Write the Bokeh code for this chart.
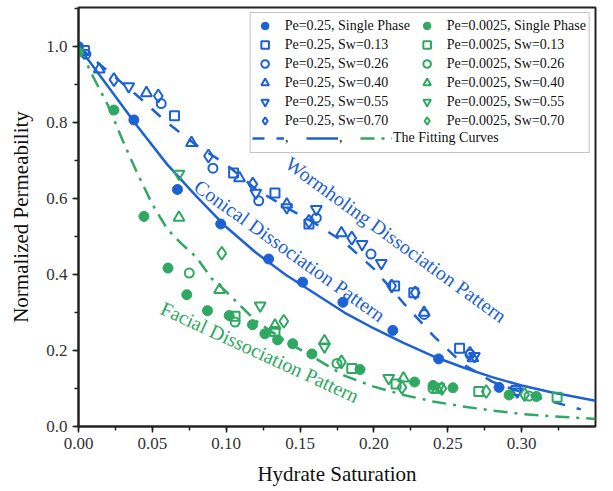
from bokeh.plotting import figure
from bokeh.models import Range1d, SingleIntervalTicker, Legend, LegendItem, CustomJSTickFormatter
from bokeh.core.properties import value
from bokeh.embed import file_html
from bokeh.resources import INLINE

BLUE = "#1d61d6"
GREEN = "#2fa862"
SERIF = "Liberation Serif"

# ---- Pe = 0.25 (blue) ----
hs_b_single = [0.0, 0.0375, 0.067, 0.0963, 0.1287, 0.1517, 0.179, 0.2128, 0.2438, 0.2847]
kn_b_single = [1.0, 0.807, 0.624, 0.533, 0.441, 0.380, 0.327, 0.253, 0.178, 0.103]

hs_b_013 = [0.004, 0.065, 0.105, 0.133, 0.156, 0.214, 0.227, 0.258, 0.296]
kn_b_013 = [0.99, 0.818, 0.667, 0.615, 0.533, 0.37, 0.352, 0.206, 0.095]

hs_b_026 = [0.005, 0.056, 0.091, 0.122, 0.161, 0.198, 0.234, 0.265]
kn_b_026 = [0.98, 0.85, 0.68, 0.594, 0.549, 0.454, 0.295, 0.19]

hs_b_040 = [0.014, 0.046, 0.0765, 0.109, 0.141, 0.178, 0.234, 0.267]
kn_b_040 = [0.94, 0.878, 0.747, 0.654, 0.585, 0.509, 0.30, 0.18]

hs_b_055 = [0.034, 0.120, 0.141, 0.161, 0.192, 0.205, 0.268, 0.297]
kn_b_055 = [0.895, 0.615, 0.577, 0.572, 0.48, 0.43, 0.185, 0.092]

hs_b_070 = [0.024, 0.054, 0.088, 0.118, 0.156, 0.185, 0.212, 0.228, 0.265]
kn_b_070 = [0.913, 0.87, 0.712, 0.638, 0.54, 0.496, 0.37, 0.352, 0.193]

# ---- Pe = 0.0025 (green) ----
hs_g_single = [0.0, 0.024, 0.0443, 0.0606, 0.0733, 0.0873, 0.102, 0.1178, 0.1262, 0.1348,
               0.145, 0.158, 0.1906, 0.2275, 0.24, 0.2535, 0.2915, 0.31]
kn_g_single = [0.985, 0.833, 0.553, 0.417, 0.347, 0.305, 0.292, 0.268, 0.244, 0.228,
               0.218, 0.191, 0.15, 0.117, 0.108, 0.102, 0.083, 0.079]

hs_g_013 = [0.106, 0.133, 0.185, 0.215, 0.271, 0.324]
kn_g_013 = [0.29, 0.25, 0.153, 0.112, 0.092, 0.077]

hs_g_026 = [0.075, 0.106, 0.175, 0.24, 0.305]
kn_g_026 = [0.404, 0.275, 0.166, 0.10, 0.08]

hs_g_040 = [0.068, 0.0955, 0.133, 0.1665, 0.22, 0.243]
kn_g_040 = [0.55, 0.36, 0.266, 0.225, 0.127, 0.097]

hs_g_055 = [0.068, 0.123, 0.1665, 0.21, 0.244]
kn_g_055 = [0.665, 0.318, 0.21, 0.127, 0.104]

hs_g_070 = [0.097, 0.139, 0.178, 0.219, 0.246, 0.276, 0.302]
kn_g_070 = [0.456, 0.277, 0.17, 0.103, 0.10, 0.092, 0.084]

# ---- fitting curves ----
hs_fit_worm = [0.0, 0.02, 0.04, 0.06, 0.08, 0.10, 0.12, 0.14, 0.16, 0.18, 0.20, 0.22,
               0.24, 0.26, 0.28, 0.30, 0.32, 0.34]
kn_fit_worm = [1.0, 0.935, 0.87, 0.80, 0.74, 0.69, 0.625, 0.578, 0.535, 0.485, 0.415, 0.325,
               0.24, 0.165, 0.118, 0.09, 0.066, 0.045]

hs_fit_cone = [0.0, 0.02, 0.04, 0.06, 0.08, 0.10, 0.12, 0.14, 0.16, 0.18, 0.20, 0.22,
               0.24, 0.26, 0.28, 0.30, 0.32, 0.35]
kn_fit_cone = [1.0, 0.895, 0.79, 0.69, 0.605, 0.525, 0.458, 0.40, 0.35, 0.30, 0.258, 0.22,
               0.185, 0.156, 0.13, 0.108, 0.09, 0.068]

hs_fit_face = [0.0, 0.01, 0.02, 0.03, 0.04, 0.05, 0.06, 0.07, 0.08, 0.09, 0.10, 0.12,
               0.14, 0.16, 0.18, 0.20, 0.22, 0.24, 0.26, 0.28, 0.30, 0.32, 0.35]
kn_fit_face = [1.0, 0.92, 0.845, 0.752, 0.665, 0.585, 0.52, 0.48, 0.445, 0.39, 0.355, 0.278,
               0.225, 0.18, 0.134, 0.105, 0.083, 0.066, 0.053, 0.042, 0.033, 0.027, 0.02]

pattern_labels = ["Wormholing Dissociation Pattern", "Conical Dissociation Pattern",
                  "Facial Dissociation Pattern"]

p = figure(width=613, height=491, output_backend="svg", toolbar_location=None,
           x_range=Range1d(0, 0.35), y_range=Range1d(0, 1.103),
           min_border_left=78, min_border_right=18, min_border_top=7, min_border_bottom=65)
p.background_fill_color = "white"
p.border_fill_color = "white"
p.outline_line_color = "#222222"
p.outline_line_width = 2
p.xgrid.visible = False
p.ygrid.visible = False

p.xaxis.ticker = SingleIntervalTicker(interval=0.05, num_minor_ticks=2)
p.yaxis.ticker = SingleIntervalTicker(interval=0.2, num_minor_ticks=2)
p.xaxis.formatter = CustomJSTickFormatter(code="return tick.toFixed(2);")
p.yaxis.formatter = CustomJSTickFormatter(code="return tick.toFixed(1);")
for ax in (p.xaxis, p.yaxis):
    ax.axis_line_width = 2
    ax.axis_line_color = "#222222"
    ax.major_tick_line_color = "#222222"
    ax.minor_tick_line_color = "#222222"
    ax.major_tick_line_width = 1.5
    ax.minor_tick_line_width = 1.5
    ax.major_tick_out = 6
    ax.major_tick_in = 0
    ax.minor_tick_out = 4
    ax.minor_tick_in = 0
    ax.major_label_text_font = SERIF
    ax.major_label_text_font_size = "17px"
    ax.major_label_text_color = "#333333"
    ax.axis_label_text_font = SERIF
    ax.axis_label_text_font_size = "21px"
    ax.axis_label_text_font_style = "normal"
    ax.axis_label_text_color = "#111111"
p.xaxis.axis_label = "Hydrate Saturation"
p.yaxis.axis_label = "Normalized Permeability"
p.xaxis.axis_label_standoff = 10
p.yaxis.axis_label_standoff = 10

# fitting curves
r_worm = p.line(hs_fit_worm, kn_fit_worm, line_color=BLUE, line_width=2.5, line_dash="12 12")
r_cone = p.line(hs_fit_cone, kn_fit_cone, line_color=BLUE, line_width=2.5)
r_face = p.line(hs_fit_face, kn_fit_face, line_color=GREEN, line_width=2.5, line_dash="14 7 3 7")

def filled(xs, ys, color):
    return p.scatter(xs, ys, marker="circle", size=10, fill_color=color, line_color=color)

def hollow(xs, ys, color, marker, size):
    return p.scatter(xs, ys, marker=marker, size=size, fill_color=None,
                     line_color=color, line_width=2)

rb = [
    filled(hs_b_single, kn_b_single, BLUE),
    hollow(hs_b_013, kn_b_013, BLUE, "square", 9),
    hollow(hs_b_026, kn_b_026, BLUE, "circle", 9),
    hollow(hs_b_040, kn_b_040, BLUE, "triangle", 11),
    hollow(hs_b_055, kn_b_055, BLUE, "inverted_triangle", 11),
    hollow(hs_b_070, kn_b_070, BLUE, "diamond", 13),
]
rg = [
    filled(hs_g_single, kn_g_single, GREEN),
    hollow(hs_g_013, kn_g_013, GREEN, "square", 9),
    hollow(hs_g_026, kn_g_026, GREEN, "circle", 9),
    hollow(hs_g_040, kn_g_040, GREEN, "triangle", 11),
    hollow(hs_g_055, kn_g_055, GREEN, "inverted_triangle", 11),
    hollow(hs_g_070, kn_g_070, GREEN, "diamond", 13),
]

# rotated pattern labels
p.text(x=[0.215, 0.143], y=[0.492, 0.463], text=pattern_labels[:2], angle=[-0.627, -0.62],
       text_color=BLUE, text_font=value(SERIF), text_font_size="20px",
       text_align="center", text_baseline="middle")
p.text(x=[0.1228], y=[0.196], text=pattern_labels[2:], angle=[-0.431],
       text_color=GREEN, text_font=value(SERIF), text_font_size="20px",
       text_align="center", text_baseline="middle")

sw = ["Single Phase", "Sw=0.13", "Sw=0.26", "Sw=0.40", "Sw=0.55", "Sw=0.70"]
items = [LegendItem(label=f"Pe=0.25, {s}", renderers=[r]) for s, r in zip(sw, rb)]
items.append(LegendItem(label=" ", renderers=[]))  # row kept free for the fitting-curve key
items += [LegendItem(label=f"Pe=0.0025, {s}", renderers=[r]) for s, r in zip(sw, rg)]

leg = Legend(items=items, ncols=2, location="top_right", margin=5, padding=3,
             glyph_width=22, glyph_height=19, label_height=18, label_width=131,
             label_standoff=9, spacing=0,
             label_text_font=SERIF, label_text_font_size="14px", label_text_color="#111111",
             border_line_color="#888888", border_line_width=1, background_fill_alpha=1)
p.add_layout(leg)

fit_leg = Legend(items=[LegendItem(label=",", renderers=[r_worm]),
                        LegendItem(label=",", renderers=[r_cone]),
                        LegendItem(label="The Fitting Curves", renderers=[r_face])],
                 orientation="horizontal", location=(174, 279), margin=0, padding=0,
                 glyph_width=32, glyph_height=18, label_height=18, label_standoff=1, spacing=1,
                 label_text_font=SERIF, label_text_font_size="14px", label_text_color="#111111",
                 border_line_alpha=0, background_fill_alpha=0)
p.add_layout(fit_leg)

open("out.html", "w").write(file_html(p, INLINE))
